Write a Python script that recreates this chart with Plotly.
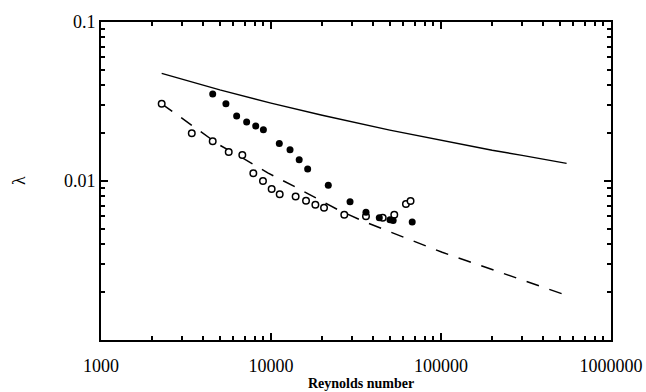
import plotly.graph_objects as go

# Smooth-pipe curve (solid)
re_solid = [2275, 3000, 5000, 10000, 20000, 50000, 100000, 200000, 300000, 548000]
lam_solid = [0.0475, 0.0435, 0.0374, 0.0309, 0.0259, 0.0209, 0.0180, 0.0156, 0.0145, 0.0129]

# Dashed curve
re_dashed = [2275, 3430, 4930, 6750, 9570, 13620, 18580, 25470, 36560, 51300, 71900, 101600, 141600, 548000]
lam_dashed = [0.0306, 0.0222, 0.01694, 0.01402, 0.01125, 0.00928, 0.0078, 0.00649, 0.00547, 0.00474, 0.0041, 0.00356, 0.00315, 0.00191]

# Filled circles
re_filled = [4540, 5430, 6280, 7190, 8130, 9020, 11190, 12940, 14650, 16430, 21730, 29170, 36200, 43350, 50100, 52300, 67700]
lam_filled = [0.0353, 0.0306, 0.0256, 0.0235, 0.0222, 0.0210, 0.0172, 0.0157, 0.0136, 0.0119, 0.0094, 0.0074, 0.00637, 0.00587, 0.00571, 0.00565, 0.00552]

# Open circles
re_open = [2275, 3420, 4540, 5640, 6780, 7870, 8970, 10090, 11250, 13960, 16070, 18240, 20510, 26980, 36200, 45400, 53100, 62200, 66200]
lam_open = [0.0306, 0.0200, 0.0178, 0.0152, 0.01455, 0.0112, 0.0100, 0.00891, 0.00826, 0.00798, 0.0075, 0.00708, 0.00678, 0.00613, 0.0060, 0.00587, 0.00613, 0.00718, 0.00748]

x_tickvals = [1000, 10000, 100000, 1000000]
x_ticktext = ["1000", "10000", "100000", "1000000"]
y_tickvals = [0.01, 0.1]
y_ticktext = ["0.01", "0.1"]

FONT = "Liberation Serif"

fig = go.Figure()
fig.add_trace(go.Scatter(x=re_solid, y=lam_solid, mode="lines",
                         line=dict(color="black", width=1.4), showlegend=False))
fig.add_trace(go.Scatter(x=re_dashed, y=lam_dashed, mode="lines",
                         line=dict(color="black", width=1.5, dash="13px,11px"), showlegend=False))
fig.add_trace(go.Scatter(x=re_open, y=lam_open, mode="markers",
                         marker=dict(symbol="circle", size=6.5, color="white",
                                     line=dict(color="black", width=1.5)), showlegend=False))
fig.add_trace(go.Scatter(x=re_filled, y=lam_filled, mode="markers",
                         marker=dict(symbol="circle", size=7, color="black",
                                     line=dict(color="black", width=0)), showlegend=False))

fig.update_xaxes(type="log", range=[3, 6], tickmode="array", tickvals=x_tickvals,
                 ticktext=x_ticktext, ticks="inside", ticklen=7, tickwidth=2, tickcolor="black",
                 showline=True, linecolor="black", linewidth=2, mirror="ticks", ticklabelstandoff=8,
                 automargin=False,
                 tickfont=dict(family=FONT, size=18, color="black"),
                 minor=dict(ticks="inside", ticklen=4, tickwidth=1.5, tickcolor="black", dtick="D1"))
fig.update_yaxes(type="log", range=[-3, -1], tickmode="array", tickvals=y_tickvals,
                 ticktext=y_ticktext, ticksuffix="\u00a0\u00a0\u00a0\u00a0",
                 ticks="inside", ticklen=7, tickwidth=2, tickcolor="black",
                 showline=True, linecolor="black", linewidth=2, mirror="ticks",
                 automargin=False,
                 tickfont=dict(family=FONT, size=18, color="black"),
                 minor=dict(ticks="inside", ticklen=4, tickwidth=1.5, tickcolor="black", dtick="D1"))

fig.add_annotation(text="<b>Reynolds number</b>", xref="paper", yref="paper",
                   x=0.51, y=-0.138, xanchor="center", yanchor="middle", showarrow=False,
                   font=dict(family=FONT, size=14, color="black"))
fig.add_annotation(text="λ", xref="paper", yref="paper",
                   x=-(101 - 19) / 510, y=(340 - 181) / 318, xanchor="center", yanchor="middle",
                   showarrow=False, textangle=-90,
                   font=dict(family=FONT, size=18, color="black"))

fig.update_layout(width=646, height=392, margin=dict(l=101, r=35, t=22, b=52),
                  plot_bgcolor="white", paper_bgcolor="white")

fig.write_html("out.html")
